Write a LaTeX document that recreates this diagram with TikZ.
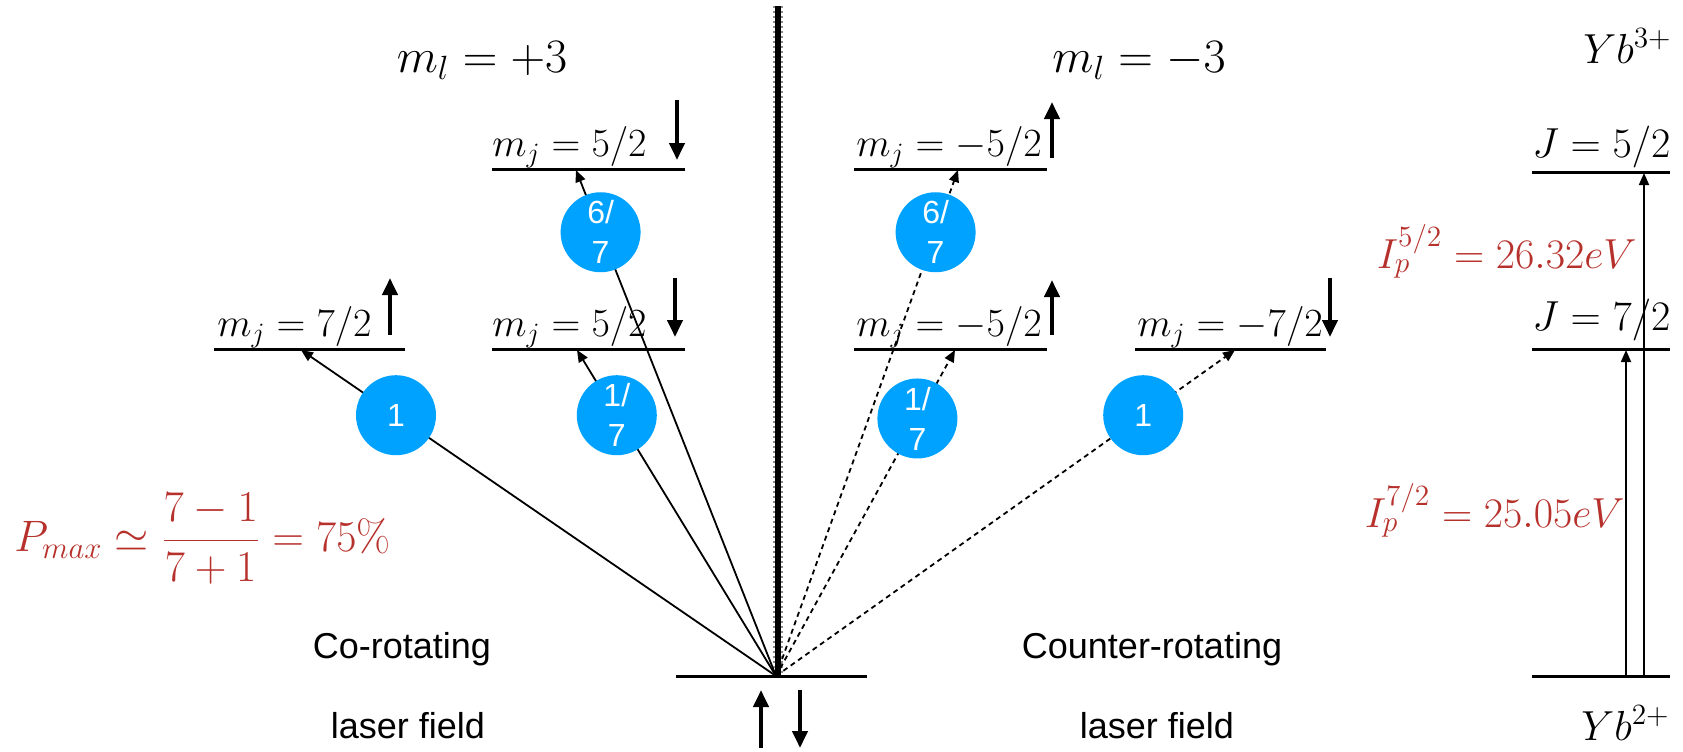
\RequirePackage{fix-cm}
\documentclass[tikz,border=0pt]{standalone}
\usepackage{amsmath,amssymb}
\usepackage{fontspec}
\newfontfamily\arialfont{Liberation Sans}
\usepackage{tikz}
\usetikzlibrary{arrows.meta}
\definecolor{DotBlue}{HTML}{00A2FF}
\definecolor{IonRed}{HTML}{B7312C}

\begin{document}
\begin{tikzpicture}[x=0.5pt,y=-0.5pt,
  >={Triangle[length=6pt,width=5pt]},
  level/.style={line width=1.5pt},
  trans/.style={->,line width=0.9pt},
  transd/.style={trans,dash pattern=on 2.5pt off 2pt},
  spin/.style={-{Triangle[length=8.5pt,width=7.5pt]},line width=2pt},
  prob/.style={circle,fill=DotBlue,minimum size=40pt,inner sep=0pt,
    text=white,align=center,font=\arialfont\fontsize{16}{20}\selectfont},
  mjlab/.style={anchor=base west,inner sep=0pt,font=\fontsize{20}{24}\selectfont},
  bigmath/.style={anchor=base,inner sep=0pt,font=\fontsize{24}{28}\selectfont},
  redlab/.style={inner sep=0pt,IonRed,font=\fontsize{21}{25}\selectfont},
  plain/.style={anchor=base,inner sep=0pt,font=\arialfont\fontsize{18}{22}\selectfont}]
  \useasboundingbox (0,0) rectangle (1683,751);

  % divider between the two fields
  \draw[line width=5pt,black!45,dash pattern=on 1pt off 1.5pt] (778,6) -- (778,678);
  \draw[line width=3pt] (778,6) -- (778,678);

  % Yb2+ ground state and laser spins
  \draw[level] (676,676) -- (867,676);
  \coordinate (O) at (776,676);
  \draw[spin] (761,748) -- (761,690);
  \draw[spin] (800,690) -- (800,748);

  \node[bigmath] (mlp) at (482,72) {$m_l=+3$};
  \node[bigmath] (mlm) at (1139,72) {$m_l=-3$};

  % co-rotating levels
  \draw[level] (492,169) -- (685,169);
  \draw[level] (214,349) -- (405,349);
  \draw[level] (492,349) -- (685,349);
  \node[mjlab] (mj52u) at (492,156) {$m_j=5/2$};
  \node[mjlab] (mj72) at (217,336) {$m_j=7/2$};
  \node[mjlab] (mj52) at (492,336) {$m_j=5/2$};
  \draw[spin] (677,100) -- (677,160);
  \draw[spin] (390,335) -- (390,278);
  \draw[spin] (675,278) -- (675,337);
  \coordinate (t52u) at (576,170);
  \coordinate (t72) at (301,350);
  \coordinate (t52) at (577,350);

  % counter-rotating levels
  \draw[level] (854,169) -- (1047,169);
  \draw[level] (854,349) -- (1047,349);
  \draw[level] (1135,349) -- (1326,349);
  \node[mjlab] (mjm52u) at (856,156) {$m_j=-5/2$};
  \node[mjlab] (mjm52) at (856,336) {$m_j=-5/2$};
  \node[mjlab] (mjm72) at (1137,336) {$m_j=-7/2$};
  \draw[spin] (1052,158) -- (1052,102);
  \draw[spin] (1052,335) -- (1052,280);
  \draw[spin] (1330,278) -- (1330,337);
  \coordinate (tm52u) at (958,170);
  \coordinate (tm52) at (955,350);
  \coordinate (tm72) at (1235,350);

  % ionisation channels with weights
  \draw[trans] (O) -- node[prob,pos=0.8] (w72) {1} (t72);
  \draw[trans] (O) -- node[prob,pos=0.8] (w52) {1/\\7} (t52);
  \draw[trans] (O) -- node[prob,pos=0.877] (w52u) {6/\\7} (t52u);
  \draw[transd] (O) -- node[prob,pos=0.877] (wm52u) {6/\\7} (tm52u);
  \draw[transd] (O) -- node[prob,pos=0.79] (wm52) {1/\\7} (tm52);
  \draw[transd] (O) -- node[prob,pos=0.8] (wm72) {1} (tm72);

  \node[redlab,anchor=west,font=\fontsize{22}{26}\selectfont] (pmax) at (14,539)
    {$P_{max}\simeq\dfrac{7-1}{7+1}=75\%$};
  \node[plain] (co) at (402,658) {Co-rotating};
  \node[plain] (colf) at (408,738) {laser field};
  \node[plain] (cnt) at (1152,658) {Counter-rotating};
  \node[plain] (cntlf) at (1157,738) {laser field};

  % Yb ladder
  \draw[level] (1532,172) -- (1670,172);
  \draw[level] (1532,349) -- (1670,349);
  \draw[level] (1532,676) -- (1670,676);
  \node[mjlab,font=\fontsize{21}{25}\selectfont] (j52) at (1532,157) {$J=5/2$};
  \node[mjlab,font=\fontsize{21}{25}\selectfont] (j72) at (1532,330) {$J=7/2$};
  \node[redlab,anchor=base east] (ip52) at (1637,268) {$I_p^{5/2}=26.32eV$};
  \node[redlab,anchor=base east] (ip72) at (1625,527) {$I_p^{7/2}=25.05eV$};
  \node[redlab,text=black,anchor=base east] (yb3) at (1672,63) {$Yb^{3+}$};
  \node[redlab,text=black,anchor=base east] (yb2) at (1670,740) {$Yb^{2+}$};
  \coordinate (g72) at (1626,676);
  \coordinate (g52) at (1644,676);
  \coordinate (j72t) at (1626,350);
  \coordinate (j52t) at (1644,173);
  \draw[trans] (g72) -- (j72t);
  \draw[trans] (g52) -- (j52t);
\end{tikzpicture}
\end{document}
